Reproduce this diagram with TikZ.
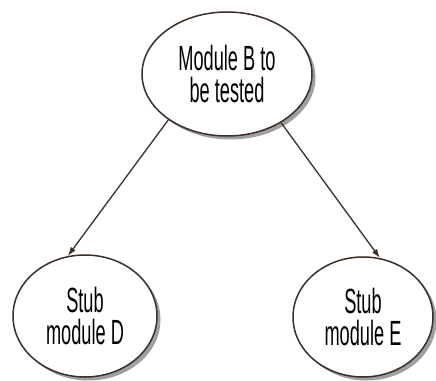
\documentclass[tikz,border=0pt]{standalone}
\usepackage{fontspec}
\newfontfamily\narrowfont[FakeStretch=0.52]{Liberation Sans}
\usetikzlibrary{shapes.geometric,shadows,arrows.meta}
\definecolor{inkbrown}{HTML}{3B2F27}

\begin{document}
\begin{tikzpicture}[
    x=1pt, y=1pt,
    every node/.style={font=\narrowfont\fontsize{35}{32}\selectfont, align=center},
    module/.style={ellipse, draw=inkbrown, line width=1.5pt, fill=white, inner sep=0pt,
                   general shadow={shadow xshift=3.5pt, shadow yshift=-3.5pt, fill=gray!75}},
    arrow/.style={-{Latex[length=9pt,width=6pt]}, draw=inkbrown, line width=1.3pt}
]
\useasboundingbox (0,0) rectangle (436,380);

\node[module, minimum width=170pt, minimum height=124pt] (mb) at (227,306) {Module B to\\be tested};
\node[module, minimum width=144pt, minimum height=122pt] (sd) at (85,64) {Stub\\module D};
\node[module, minimum width=140pt, minimum height=120pt] (se) at (363,63) {Stub\\module E};

\draw[arrow] (mb.218) -- (sd.106);
\draw[arrow] (mb.318) -- (se.74);

\end{tikzpicture}
\end{document}
